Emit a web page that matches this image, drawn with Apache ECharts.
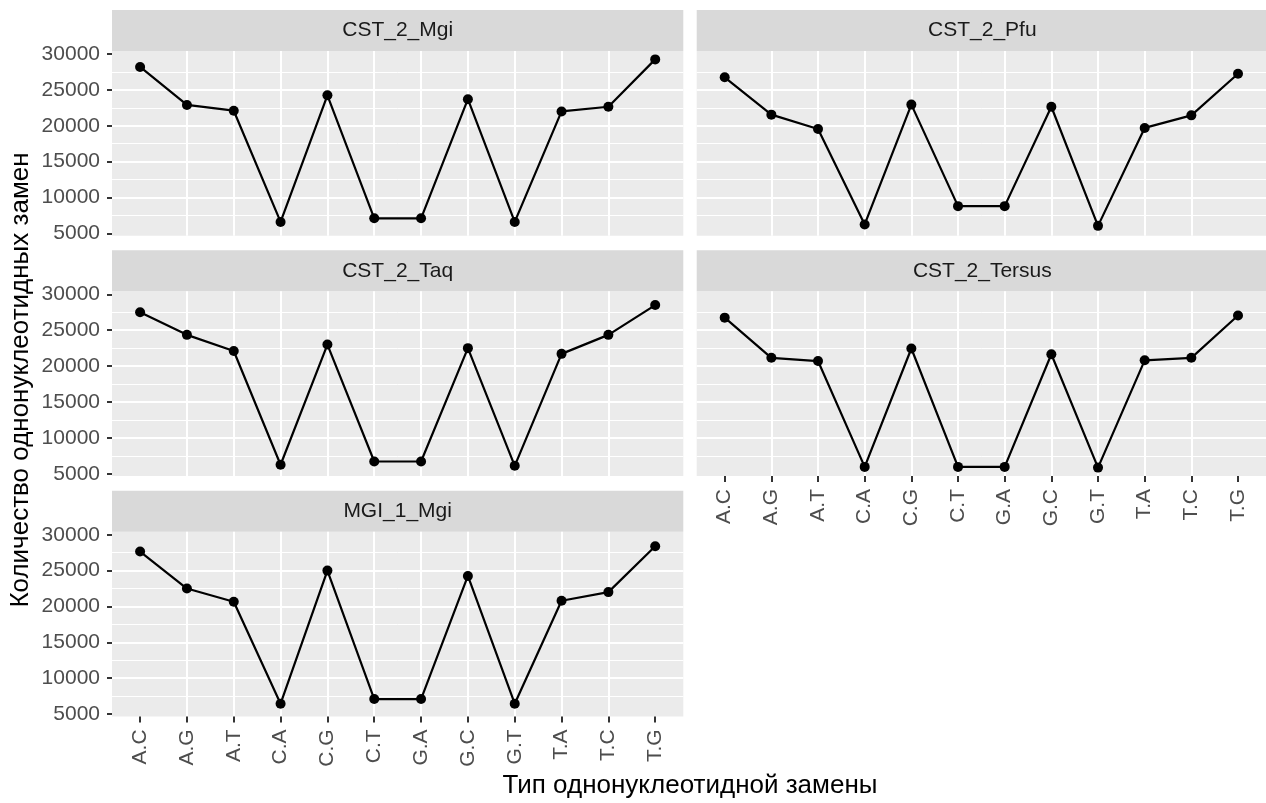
<!DOCTYPE html>
<html>
<head>
<meta charset="utf-8">
<script src="https://cdn.jsdelivr.net/npm/echarts@6/dist/echarts.min.js"></script>
<style>
html,body{margin:0;padding:0;background:#fff;}
#chart{width:1266px;height:803px;}
</style>
</head>
<body>
<div id="chart"></div>
<script>
// ---- data ----
var categories = ['A.C','A.G','A.T','C.A','C.G','C.T','G.A','G.C','G.T','T.A','T.C','T.G'];
var facetNames = ['CST_2_Mgi','CST_2_Pfu','CST_2_Taq','CST_2_Tersus','MGI_1_Mgi'];
var cst2Mgi    = [28200, 22900, 22100, 6600, 24250, 7100, 7100, 23700, 6600, 22000, 22650, 29250];
var cst2Pfu    = [26750, 21550, 19550, 6250, 22950, 8800, 8800, 22650, 6050, 19700, 21450, 27250];
var cst2Taq    = [27500, 24350, 22100, 6250, 23000, 6700, 6700, 22500, 6100, 21700, 24350, 28500];
var cst2Tersus = [26750, 21150, 20700, 5950, 22450, 5950, 5950, 21650, 5850, 20800, 21150, 27050];
var mgi1Mgi    = [27650, 22500, 20650, 6450, 25000, 7100, 7100, 24250, 6450, 20800, 22000, 28400];
var yTicks = [5000, 10000, 15000, 20000, 25000, 30000];
var xTitle = 'Тип однонуклеотидной замены';
var yTitle = 'Количество однонуклеотидных замен';

var facetValues = [cst2Mgi, cst2Pfu, cst2Taq, cst2Tersus, mgi1Mgi];

// ---- layout ----
var FONT = 'Liberation Sans, Arial, sans-serif';
var colLeft = [112, 696.7];
var panelW = 571.3;
var stripTop = [10, 250.3, 490.7];
var stripH = 41;
var panelH = 184.7;
// facet placement: [row, col]
var place = [[0,0],[0,1],[1,0],[1,1],[2,0]];
var showX = [false, false, false, true, true];
var showY = [true, false, true, false, true];

var allVals = [].concat.apply([], facetValues);
var vMin = Math.min.apply(null, allVals), vMax = Math.max.apply(null, allVals);
var vPad = (vMax - vMin) * 0.05;
var yLo = vMin - vPad, yHi = vMax + vPad;
var xIdx = categories.map(function(c, i){ return i; });

var grids = [], xAxes = [], yAxes = [], series = [], graphics = [];

facetNames.forEach(function(name, k){
  var r = place[k][0], c = place[k][1];
  var left = colLeft[c], top = stripTop[r] + stripH;
  grids.push({
    left: left, top: top, width: panelW, height: panelH,
    show: true, backgroundColor: '#EBEBEB', borderWidth: 0, containLabel: false
  });
  xAxes.push({
    type: 'value', gridIndex: k, min: -0.6, max: 11.6, position: 'bottom',
    minInterval: 1, maxInterval: 1,
    axisLine: {show: false, onZero: false},
    axisTick: {show: showX[k], length: 6, lineStyle: {color: '#333333', width: 2}, customValues: xIdx},
    axisLabel: {
      show: showX[k], rotate: 90, margin: 13, color: '#4D4D4D', fontSize: 21, fontFamily: FONT,
      customValues: xIdx,
      formatter: function(v){ return (Math.abs(v - Math.round(v)) < 1e-6 && categories[Math.round(v)]) ? categories[Math.round(v)] : ''; }
    },
    splitLine: {show: true, showMinLine: false, showMaxLine: false, lineStyle: {color: '#FFFFFF', width: 2}},
    minorSplitLine: {show: false}
  });
  yAxes.push({
    type: 'value', gridIndex: k, min: yLo, max: yHi, position: 'left',
    minInterval: 5000, maxInterval: 5000,
    axisLine: {show: false, onZero: false},
    axisTick: {show: showY[k], length: 5, lineStyle: {color: '#333333', width: 2}, customValues: yTicks},
    axisLabel: {
      show: showY[k], margin: 12, color: '#4D4D4D', fontSize: 21, fontFamily: FONT,
      customValues: yTicks,
      formatter: function(v){ return (v % 5000 === 0) ? String(v) : ''; }
    },
    minorTick: {show: false, splitNumber: 2},
    splitLine: {show: true, showMinLine: false, showMaxLine: false, lineStyle: {color: '#FFFFFF', width: 2}},
    minorSplitLine: {show: true, lineStyle: {color: '#FFFFFF', width: 1}}
  });
  series.push({
    type: 'line', xAxisIndex: k, yAxisIndex: k,
    data: facetValues[k].map(function(v, i){ return [i, v]; }),
    symbol: 'circle', symbolSize: 10, showSymbol: true,
    lineStyle: {color: '#000000', width: 2.2},
    itemStyle: {color: '#000000'},
    silent: true, animation: false
  });
  // strip
  graphics.push({
    type: 'rect', shape: {x: left, y: stripTop[r], width: panelW, height: stripH},
    style: {fill: '#D9D9D9'}, silent: true
  });
  graphics.push({
    type: 'text', x: left + panelW / 2, y: stripTop[r] + stripH / 2,
    style: {text: name, fill: '#1A1A1A', fontSize: 21, fontFamily: FONT, align: 'center', verticalAlign: 'middle'},
    silent: true
  });
});

graphics.push({
  type: 'text', x: 690, y: 786,
  style: {text: xTitle, fill: '#000000', fontSize: 26, fontFamily: FONT, align: 'center', verticalAlign: 'middle'},
  silent: true
});
graphics.push({
  type: 'text', x: 21, y: 380, rotation: Math.PI / 2,
  style: {text: yTitle, fill: '#000000', fontSize: 26, fontFamily: FONT, align: 'center', verticalAlign: 'middle'},
  silent: true
});

var chart = echarts.init(document.getElementById('chart'), null, {renderer: 'canvas'});
chart.setOption({
  animation: false,
  backgroundColor: '#FFFFFF',
  grid: grids,
  xAxis: xAxes,
  yAxis: yAxes,
  series: series,
  graphic: graphics
});
</script>
</body>
</html>
